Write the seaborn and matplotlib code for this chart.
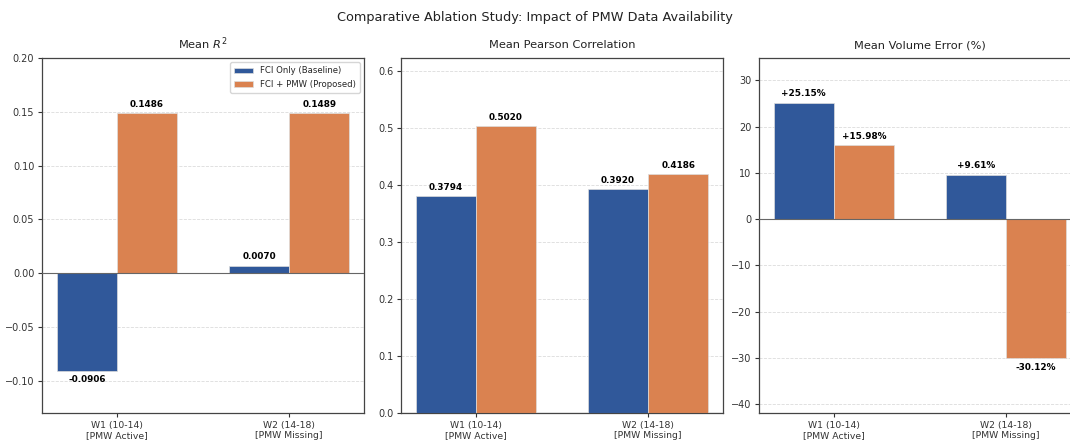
import matplotlib
matplotlib.use("Agg")
import matplotlib.pyplot as plt
import pandas as pd
import seaborn as sns

# Evaluation windows and model variants
windows = ["W1 (10-14)\n[PMW Active]", "W2 (14-18)\n[PMW Missing]"]
models = ["FCI Only (Baseline)", "FCI + PMW (Proposed)"]

# Per-window metrics for each model
r2_fci = [-0.0906, 0.0070]
r2_pmw = [0.1486, 0.1489]
pearson_fci = [0.3794, 0.3920]
pearson_pmw = [0.5020, 0.4186]
volerr_fci = [25.15, 9.61]
volerr_pmw = [15.98, -30.12]

colors = ["#30589a", "#da8250"]

sns.set_theme(style="ticks")
plt.rcParams["font.family"] = ["DejaVu Sans"]

fig, axes = plt.subplots(1, 3, figsize=(10.7, 4.4), dpi=100)

panels = [
    ("Mean $R^2$", r2_fci, r2_pmw, (-0.13, 0.20), lambda v: f"{v:.4f}"),
    ("Mean Pearson Correlation", pearson_fci, pearson_pmw, (0.0, 0.622), lambda v: f"{v:.4f}"),
    ("Mean Volume Error (%)", volerr_fci, volerr_pmw, (-41.9, 34.8), lambda v: f"{v:+.2f}%"),
]

lefts = [42, 401, 759]
for ax, left in zip(axes, lefts):
    ax.set_position([left / 1070, 1 - 413 / 440, 322 / 1070, 355 / 440])

for i, (ax, (title, fci, pmw, ylim, fmt)) in enumerate(zip(axes, panels)):
    df = pd.DataFrame({
        "window": windows * 2,
        "model": [models[0]] * 2 + [models[1]] * 2,
        "value": list(fci) + list(pmw),
    })
    sns.barplot(data=df, x="window", y="value", hue="model", hue_order=models,
                palette=colors, saturation=1, width=0.7, edgecolor="#dddddd",
                linewidth=0.5, ax=ax, legend=(i == 0), zorder=3)
    for cont, vals in zip(ax.containers, [fci, pmw]):
        ax.bar_label(cont, labels=[fmt(v) for v in vals], padding=3,
                     fontsize=6.4, fontweight="bold", color="black")
    ax.axhline(0, color="#666666", linewidth=0.8, zorder=4)
    ax.set_ylim(*ylim)
    ax.set_xlim(-0.435, 1.435)
    ax.set_title(title, fontsize=8.2, color="#222222", pad=7)
    ax.set_xlabel("")
    ax.set_ylabel("")
    ax.yaxis.grid(True, linestyle="--", color="#cccccc", alpha=0.7, linewidth=0.6)
    ax.set_axisbelow(True)
    ax.tick_params(axis="y", labelsize=7, colors="#333333", length=3, width=0.8, pad=2.5)
    ax.tick_params(axis="x", labelsize=6.7, colors="#333333", length=3, width=0.8, pad=2.5)
    for s in ax.spines.values():
        s.set_color("#444444")
        s.set_linewidth(0.9)

axes[0].legend(loc="upper right", fontsize=6.1, frameon=True, title=None,
               handlelength=2.2, borderpad=0.5)

fig.suptitle("Comparative Ablation Study: Impact of PMW Data Availability",
             fontsize=9.3, color="#222222", y=0.975)

fig.savefig("out.png", dpi=100)
